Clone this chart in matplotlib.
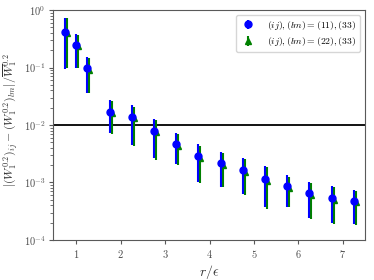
import matplotlib
matplotlib.use("Agg")
import matplotlib.pyplot as plt
import numpy as np

plt.rcParams['mathtext.fontset'] = 'cm'
plt.rcParams['font.family'] = 'serif'
plt.rcParams['font.serif'] = ['cmr10', 'DejaVu Serif']
plt.rcParams['axes.formatter.use_mathtext'] = True

r = [0.75, 1.0, 1.25, 1.75, 2.25, 2.75, 3.25, 3.75, 4.25, 4.75, 5.25, 5.75, 6.25, 6.75, 7.25]

blue_val = [0.41, 0.243, 0.097, 0.017, 0.0138, 0.00787, 0.00473, 0.00285, 0.00215, 0.00163,
            0.00115, 0.00087, 0.00065, 0.000545, 0.000477]
blue_hi = [0.72, 0.38, 0.15, 0.027, 0.022, 0.0127, 0.00716, 0.00461, 0.00335, 0.00263,
           0.00194, 0.00135, 0.00103, 0.00088, 0.00074]
blue_lo = [0.093, 0.097, 0.0365, 0.00716, 0.0045, 0.0027, 0.00207, 0.00103, 0.00085, 0.000624,
           0.000371, 0.00038, 0.000245, 0.0002, 0.00019]

green_val = [0.40, 0.234, 0.090, 0.016, 0.0130, 0.0075, 0.0044, 0.00266, 0.00198, 0.00154,
             0.00107, 0.0008, 0.0006, 0.0005, 0.00045]
green_hi = [0.72, 0.37, 0.144, 0.026, 0.021, 0.0122, 0.0069, 0.0044, 0.0032, 0.00254,
            0.00185, 0.00126, 0.00099, 0.00085, 0.00071]
green_lo = [0.097, 0.098, 0.0356, 0.0071, 0.0043, 0.0025, 0.002, 0.00099, 0.00082, 0.0006,
            0.00035, 0.00037, 0.00023, 0.00019, 0.000182]

green_shift = 0.045
labels = [r'$(ij),(lm)=(11),(33)$', r'$(ij),(lm)=(22),(33)$']

fig = plt.figure(figsize=(3.74, 2.8), dpi=100)
ax = fig.add_axes([0.142, 0.143, 0.834, 0.821])

bv = np.array(blue_val); gv = np.array(green_val)
ax.errorbar(np.array(r), bv, yerr=[bv - np.array(blue_lo), np.array(blue_hi) - bv],
            fmt='o', color='blue', ms=5, elinewidth=1.5, capsize=0, label=labels[0], zorder=3)
ax.errorbar(np.array(r) + green_shift, gv, yerr=[gv - np.array(green_lo), np.array(green_hi) - gv],
            fmt='^', color='green', ms=5, elinewidth=1.5, capsize=0, label=labels[1], zorder=2)
ax.axhline(1e-2, color='black', lw=1.3, zorder=1)

ax.set_yscale('log')
ax.set_ylim(1e-4, 1e0)
ax.set_xlim(0.48, 7.5)
ax.set_xticks([1, 2, 3, 4, 5, 6, 7])
ax.set_xticklabels([r'$%d$' % v for v in [1, 2, 3, 4, 5, 6, 7]])
ax.set_xlabel(r'$r/\epsilon$', fontsize=10, color='0.2')
ax.set_ylabel(r'$|(W_1^{0.2})_{ij}-(W_1^{0.2})_{lm}|/\overline{W}_1^{0.2}$', fontsize=8.5, color='0.2')
ax.yaxis.set_label_coords(-0.105, 0.52)
ax.xaxis.set_label_coords(0.5, -0.1)

for s in ax.spines.values():
    s.set_color('0.35')
ax.tick_params(which='both', colors='0.35', labelcolor='0.3', labelsize=7.5)
ax.tick_params(which='major', length=3, pad=2.5)
ax.tick_params(which='minor', length=2)

leg = ax.legend(loc='upper right', fontsize=7, frameon=True, handletextpad=1.2,
                borderpad=0.4, labelspacing=0.35, handlelength=1.6)
leg.get_frame().set_edgecolor('0.8')

fig.savefig('out.png', dpi=100)
